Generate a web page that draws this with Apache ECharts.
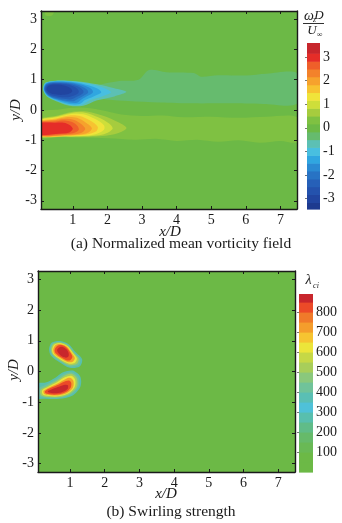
<!DOCTYPE html>
<html>
<head>
<meta charset="utf-8">
<script src="https://cdn.jsdelivr.net/npm/echarts@6.0.0/dist/echarts.min.js"></script>
<style>
  html, body { margin: 0; padding: 0; background: #fff; }
  #chart { width: 342px; height: 523px; }
</style>
</head>
<body>
<div id="chart"></div>
<script>
// axes
const xRange = [0.08, 7.48];
const yRange = [-3.27, 3.27];
const xTicks = [1, 2, 3, 4, 5, 6, 7];
const yTicks = [-3, -2, -1, 0, 1, 2, 3];

// colour bar (a): band edges and colours, bottom to top
const vortEdges = [-3.45, -3.17, -2.83, -2.5, -2.17, -1.83, -1.5, -1.17, -0.83, -0.5, -0.17,
                   0.17, 0.5, 0.83, 1.17, 1.5, 1.83, 2.17, 2.5, 2.83, 3.17, 3.6];
const vortColors = ['#1d3a8f', '#2145a0', '#2452ad', '#2660b8', '#2873c4', '#2b8ad2', '#30a6e0',
                    '#48bfe0', '#5cc0b4', '#66bb6e', '#6cb946', '#7fc142', '#a6cc3e', '#cede3a',
                    '#f0e43a', '#f7c331', '#f6a22d', '#f3822b', '#ef5f2a', '#e52d28', '#c7262c'];
const vortTicks = [-3, -2, -1, 0, 1, 2, 3];

// colour bar (b)
const swirlEdges = [0, 50, 100, 150, 200, 250, 300, 350, 400, 450, 500, 550, 600, 650, 700, 750, 800, 850, 890];
const swirlColors = ['#6cb946', '#6cb946', '#69b955', '#66ba6a', '#60bc88', '#58bfae', '#4fc1d8',
                     '#5abfb4', '#70c39a', '#8ac87c', '#a8ce5a', '#c6d846', '#ece53a', '#f6c431',
                     '#f49d2c', '#f07a2a', '#ec4a28', '#c8262c'];
const swirlTicks = [100, 200, 300, 400, 500, 600, 700, 800];

// contour regions: [band index, outline in x/D, y/D]
const vortWake = [
  [9, [[1.6, 0.75], [2.3, 0.95], [2.9, 1.0], [3.2, 1.32], [3.7, 1.25], [4.5, 1.22], [4.7, 1.1], [5.2, 1.15], [6.0, 1.14], [6.6, 1.2], [7.5, 1.2],
       [7.5, 0.22], [6.5, 0.2], [5.5, 0.22], [4.5, 0.22], [3.5, 0.25], [2.6, 0.3], [2.0, 0.35], [1.6, 0.45]]],
  [11, [[0.0, -0.1], [0.6, 0.02], [1.2, 0.08], [1.8, 0.0], [2.4, -0.15], [3.0, -0.2], [3.6, -0.18], [4.2, -0.24], [5.0, -0.22], [5.8, -0.26], [6.6, -0.22], [7.5, -0.25],
        [7.5, -1.05], [7.0, -1.02], [6.4, -1.08], [5.8, -1.0], [5.2, -1.05], [4.6, -0.98], [4.0, -1.02], [3.4, -0.95], [2.8, -0.98], [2.0, -0.93], [1.2, -0.92], [0.6, -0.9], [0.0, -0.9]]],
  [11, [[0.2, 3.27], [0.45, 3.27], [0.4, 3.12], [0.22, 3.12]]]
];
const vortNeg = [
  [8, [[0.14, 0.68], [0.2, 0.9], [0.5, 0.97], [1.1, 0.95], [1.7, 0.85], [2.2, 0.72], [2.55, 0.6], [2.2, 0.45], [1.7, 0.32], [1.3, 0.14], [0.9, 0.14], [0.5, 0.3], [0.25, 0.45]]],
  [7, [[0.15, 0.68], [0.21, 0.89], [0.5, 0.96], [1.1, 0.93], [1.6, 0.83], [1.95, 0.7], [2.1, 0.58], [1.85, 0.45], [1.5, 0.33], [1.25, 0.17], [0.9, 0.17], [0.5, 0.32], [0.26, 0.46]]],
  [6, [[0.16, 0.68], [0.22, 0.88], [0.5, 0.95], [1.05, 0.92], [1.45, 0.82], [1.72, 0.7], [1.82, 0.58], [1.6, 0.45], [1.35, 0.33], [1.2, 0.2], [0.9, 0.2], [0.5, 0.34], [0.27, 0.47]]],
  [5, [[0.17, 0.68], [0.23, 0.87], [0.5, 0.93], [1.0, 0.9], [1.35, 0.8], [1.55, 0.68], [1.58, 0.58], [1.42, 0.46], [1.25, 0.35], [1.12, 0.24], [0.9, 0.25], [0.5, 0.36], [0.28, 0.48]]],
  [4, [[0.18, 0.68], [0.24, 0.86], [0.5, 0.91], [0.95, 0.88], [1.26, 0.78], [1.42, 0.66], [1.44, 0.57], [1.3, 0.46], [1.15, 0.37], [1.03, 0.29], [0.85, 0.3], [0.5, 0.38], [0.29, 0.49]]],
  [3, [[0.19, 0.68], [0.25, 0.84], [0.5, 0.89], [0.9, 0.86], [1.18, 0.76], [1.3, 0.64], [1.3, 0.56], [1.18, 0.47], [1.05, 0.4], [0.93, 0.35], [0.8, 0.36], [0.5, 0.41], [0.3, 0.5]]],
  [2, [[0.21, 0.68], [0.27, 0.82], [0.5, 0.87], [0.85, 0.84], [1.08, 0.74], [1.17, 0.63], [1.15, 0.55], [1.04, 0.48], [0.85, 0.42], [0.6, 0.44], [0.32, 0.52]]],
  [1, [[0.24, 0.68], [0.3, 0.8], [0.5, 0.84], [0.78, 0.8], [0.95, 0.7], [0.98, 0.6], [0.85, 0.52], [0.6, 0.5], [0.36, 0.55]]]
];
const vortPos = [
  [12, [[0.0, -0.33], [0.5, -0.2], [1.0, -0.06], [1.4, -0.05], [1.9, -0.2], [2.3, -0.4], [2.55, -0.6], [2.2, -0.8], [1.5, -0.88], [0.7, -0.88], [0.0, -0.87]]],
  [13, [[0.0, -0.35], [0.5, -0.22], [1.0, -0.09], [1.35, -0.09], [1.75, -0.25], [2.05, -0.45], [2.15, -0.62], [1.9, -0.8], [1.3, -0.87], [0.6, -0.87], [0.0, -0.86]]],
  [14, [[0.0, -0.37], [0.5, -0.25], [0.95, -0.13], [1.3, -0.14], [1.65, -0.3], [1.9, -0.5], [1.9, -0.65], [1.65, -0.8], [1.2, -0.86], [0.5, -0.86], [0.0, -0.86]]],
  [15, [[0.0, -0.39], [0.5, -0.28], [0.9, -0.18], [1.2, -0.2], [1.5, -0.35], [1.72, -0.55], [1.68, -0.7], [1.4, -0.81], [1.0, -0.85], [0.0, -0.85]]],
  [16, [[0.0, -0.41], [0.5, -0.31], [0.85, -0.23], [1.12, -0.26], [1.38, -0.42], [1.55, -0.6], [1.45, -0.74], [1.15, -0.82], [0.7, -0.84], [0.0, -0.84]]],
  [17, [[0.0, -0.42], [0.5, -0.34], [0.8, -0.29], [1.04, -0.33], [1.26, -0.48], [1.36, -0.63], [1.24, -0.76], [0.9, -0.82], [0.0, -0.83]]],
  [18, [[0.0, -0.44], [0.5, -0.38], [0.76, -0.35], [0.98, -0.4], [1.14, -0.54], [1.17, -0.66], [1.0, -0.77], [0.6, -0.81], [0.0, -0.82]]],
  [19, [[0.0, -0.46], [0.5, -0.42], [0.74, -0.42], [0.92, -0.5], [1.0, -0.62], [0.9, -0.74], [0.5, -0.79], [0.0, -0.8]]]
];

const swirlUpper = [
  [5, [[0.4, 0.74], [0.48, 0.94], [0.72, 0.99], [0.97, 0.88], [1.15, 0.64], [1.35, 0.4], [1.28, 0.16], [1.0, 0.12], [0.7, 0.3], [0.45, 0.52]]],
  [8, [[0.43, 0.74], [0.5, 0.92], [0.72, 0.96], [0.95, 0.86], [1.12, 0.63], [1.3, 0.4], [1.24, 0.2], [0.99, 0.16], [0.71, 0.33], [0.48, 0.54]]],
  [10, [[0.46, 0.74], [0.53, 0.9], [0.73, 0.94], [0.94, 0.84], [1.1, 0.62], [1.25, 0.41], [1.19, 0.24], [0.98, 0.21], [0.72, 0.36], [0.5, 0.56]]],
  [12, [[0.49, 0.73], [0.56, 0.88], [0.74, 0.92], [0.93, 0.82], [1.08, 0.61], [1.2, 0.42], [1.14, 0.28], [0.96, 0.26], [0.73, 0.39], [0.52, 0.57]]],
  [14, [[0.52, 0.72], [0.59, 0.86], [0.75, 0.89], [0.92, 0.8], [1.05, 0.6], [1.14, 0.44], [1.08, 0.32], [0.93, 0.31], [0.74, 0.42], [0.55, 0.58]]],
  [16, [[0.56, 0.71], [0.63, 0.83], [0.77, 0.86], [0.91, 0.77], [1.02, 0.6], [1.07, 0.47], [1.01, 0.37], [0.89, 0.37], [0.74, 0.46], [0.59, 0.59]]],
  [17, [[0.63, 0.7], [0.7, 0.79], [0.8, 0.8], [0.9, 0.72], [0.96, 0.6], [0.96, 0.5], [0.89, 0.45], [0.79, 0.48], [0.68, 0.58]]]
];
const swirlLower = [
  [5, [[0.0, -0.4], [0.3, -0.36], [0.58, -0.2], [0.82, -0.02], [1.08, 0.03], [1.3, -0.17], [1.3, -0.5], [1.08, -0.78], [0.7, -0.89], [0.3, -0.89], [0.0, -0.86]]],
  [8, [[0.08, -0.56], [0.32, -0.42], [0.6, -0.25], [0.84, -0.07], [1.07, -0.03], [1.25, -0.2], [1.25, -0.5], [1.04, -0.75], [0.7, -0.86], [0.33, -0.86], [0.1, -0.8]]],
  [10, [[0.15, -0.6], [0.36, -0.46], [0.62, -0.3], [0.86, -0.12], [1.06, -0.08], [1.2, -0.23], [1.2, -0.5], [1.0, -0.72], [0.7, -0.83], [0.36, -0.83], [0.17, -0.77]]],
  [12, [[0.2, -0.62], [0.39, -0.49], [0.64, -0.34], [0.87, -0.18], [1.04, -0.14], [1.15, -0.27], [1.14, -0.5], [0.97, -0.7], [0.7, -0.8], [0.4, -0.8], [0.22, -0.75]]],
  [14, [[0.24, -0.63], [0.42, -0.51], [0.66, -0.38], [0.88, -0.24], [1.02, -0.21], [1.1, -0.31], [1.09, -0.51], [0.94, -0.68], [0.7, -0.77], [0.43, -0.77], [0.26, -0.73]]],
  [16, [[0.28, -0.64], [0.45, -0.53], [0.68, -0.42], [0.88, -0.31], [0.99, -0.3], [1.04, -0.38], [1.02, -0.53], [0.9, -0.66], [0.7, -0.74], [0.46, -0.75], [0.3, -0.71]]],
  [17, [[0.36, -0.65], [0.5, -0.57], [0.7, -0.49], [0.86, -0.43], [0.94, -0.45], [0.94, -0.55], [0.84, -0.64], [0.66, -0.7], [0.46, -0.7]]]
];

const serif = 'Liberation Serif';
const ink = '#1a1a1a';

function plotAxes(gi) {
  const base = { type: 'value', gridIndex: gi, z: 10, splitLine: { show: false },
    axisLine: { onZero: false, lineStyle: { color: ink, width: 1.4 } },
    axisTick: { inside: true, length: 3, lineStyle: { color: ink } } };
  const x = { ...base, min: xRange[0], max: xRange[1] };
  const y = { ...base, min: yRange[0], max: yRange[1] };
  return {
    x: [
      { ...x, position: 'bottom', axisTick: { ...x.axisTick, customValues: xTicks },
        axisLabel: { customValues: xTicks, fontFamily: serif, fontSize: 14, color: ink, margin: 4 } },
      { ...x, position: 'top', axisTick: { ...x.axisTick, customValues: xTicks }, axisLabel: { show: false } }
    ],
    y: [
      { ...y, position: 'left', axisTick: { ...y.axisTick, customValues: yTicks },
        axisLabel: { customValues: yTicks, fontFamily: serif, fontSize: 14, color: ink, margin: 4 } },
      { ...y, position: 'right', axisTick: { ...y.axisTick, customValues: yTicks }, axisLabel: { show: false } }
    ]
  };
}

function contourSeries(ai, list, colors) {
  return {
    type: 'custom', xAxisIndex: ai, yAxisIndex: ai, clip: true, silent: true,
    encode: { x: 0, y: 1 },
    data: list.map((c, i) => [c[1][0][0], c[1][0][1], i]),
    renderItem: (params, api) => {
      const c = list[params.dataIndex];
      return {
        type: 'polygon',
        shape: { points: c[1].map(p => api.coord(p)), smooth: 0.3 },
        style: { fill: colors[c[0]] }
      };
    }
  };
}

function colorbarSeries(ai, edges, colors) {
  return {
    type: 'custom', xAxisIndex: ai, yAxisIndex: ai, silent: true,
    encode: { x: 0, y: [1, 2] },
    data: colors.map((c, i) => [0, edges[i], edges[i + 1], i]),
    renderItem: (params, api) => {
      const lo = api.coord([0, api.value(1)]);
      const hi = api.coord([1, api.value(2)]);
      return {
        type: 'rect',
        shape: { x: lo[0], y: hi[1], width: hi[0] - lo[0], height: lo[1] - hi[1] + 0.6 },
        style: { fill: colors[api.value(3)] }
      };
    }
  };
}

function colorbarAxes(gi, edges, ticks) {
  return {
    x: { type: 'value', gridIndex: gi, min: 0, max: 1, show: false },
    y: { type: 'value', gridIndex: gi, position: 'right', min: edges[0], max: edges[edges.length - 1], z: 10,
      splitLine: { show: false }, axisLine: { show: false },
      axisTick: { inside: true, length: 2, customValues: ticks, lineStyle: { color: '#777' } },
      axisLabel: { customValues: ticks, fontFamily: serif, fontSize: 14, color: ink, margin: 3 } }
  };
}

const a0 = plotAxes(0), a1 = plotAxes(1);
const c0 = colorbarAxes(2, vortEdges, vortTicks), c1 = colorbarAxes(3, swirlEdges, swirlTicks);

const txt = (x, y, text, size, extra) => ({
  type: 'text', x, y, silent: true,
  style: Object.assign({ text, fontFamily: serif, fontSize: size, fill: ink, align: 'center', verticalAlign: 'middle' }, extra || {})
});
const it = { fontStyle: 'italic' };

const chart = echarts.init(document.getElementById('chart'));
chart.setOption({
  animation: false,
  grid: [
    { left: 41, top: 11, width: 256, height: 198, show: true, backgroundColor: vortColors[10], borderWidth: 0 },
    { left: 38, top: 271, width: 257, height: 201, show: true, backgroundColor: swirlColors[0], borderWidth: 0 },
    { left: 307, top: 43, width: 13, height: 166 },
    { left: 299, top: 294, width: 14, height: 178 }
  ],
  xAxis: [...a0.x, ...a1.x, c0.x, c1.x],
  yAxis: [...a0.y, ...a1.y, c0.y, c1.y],
  series: [
    contourSeries(0, vortWake.concat(vortNeg, vortPos), vortColors),
    contourSeries(2, swirlUpper.concat(swirlLower), swirlColors),
    colorbarSeries(4, vortEdges, vortColors),
    colorbarSeries(5, swirlEdges, swirlColors)
  ],
  graphic: [
    txt(170, 232, 'x/D', 15, it),
    txt(166, 494, 'x/D', 15, it),
    Object.assign(txt(16, 110, 'y/D', 15, it), { rotation: Math.PI / 2 }),
    Object.assign(txt(14, 370, 'y/D', 15, it), { rotation: Math.PI / 2 }),
    txt(181, 244, '(a) Normalized mean vorticity field', 15.5),
    txt(171, 512, '(b) Swirling strength', 15.5),
    // colour bar titles
    txt(309, 16, 'ω', 14, it),
    txt(314.5, 20, 'z', 8, it),
    txt(319, 15.5, 'D', 13, it),
    { type: 'line', silent: true, shape: { x1: 303, y1: 23.5, x2: 324, y2: 23.5 }, style: { stroke: ink, lineWidth: 0.9 } },
    txt(312, 30.5, 'U', 13, it),
    txt(319.5, 35, '∞', 8),
    txt(308.5, 280, 'λ', 14, it),
    txt(316, 286, 'ci', 8, it)
  ]
});
</script>
</body>
</html>
